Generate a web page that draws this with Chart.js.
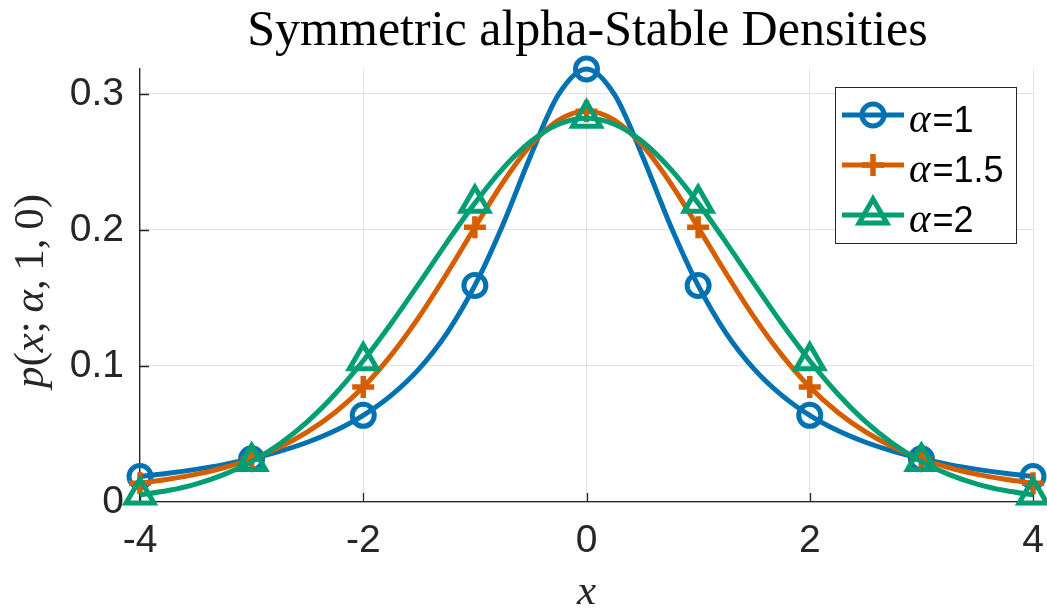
<!DOCTYPE html>
<html>
<head>
<meta charset="utf-8">
<title>Symmetric alpha-Stable Densities</title>
<script src="https://cdn.jsdelivr.net/npm/chart.js@4.4.1/dist/chart.umd.min.js"></script>
<style>
  html, body { margin: 0; padding: 0; background: #ffffff; overflow: hidden; }
  #wrap { width: 1047px; height: 612px; position: relative; }
</style>
</head>
<body>
<div id="wrap"><canvas id="chart" width="1047" height="612"></canvas></div>
<script>
// Sample grid along x
const xValues = [-4, -3.75, -3.5, -3.25, -3, -2.75, -2.5, -2.25, -2, -1.75, -1.5, -1.25, -1, -0.75, -0.5, -0.25,
                 0, 0.25, 0.5, 0.75, 1, 1.25, 1.5, 1.75, 2, 2.25, 2.5, 2.75, 3, 3.25, 3.5, 3.75, 4];

// Density values p(x; alpha, 1, 0) for each alpha
const densityAlpha1 = [0.0187, 0.0211, 0.0240, 0.0275, 0.0318, 0.0372, 0.0439, 0.0525, 0.0637, 0.0784, 0.0979, 0.1242, 0.1592, 0.2037, 0.2546, 0.2996,
                       0.3183, 0.2996, 0.2546, 0.2037, 0.1592, 0.1242, 0.0979, 0.0784, 0.0637, 0.0525, 0.0439, 0.0372, 0.0318, 0.0275, 0.0240, 0.0211, 0.0187];
const densityAlpha15 = [0.0138, 0.0167, 0.0203, 0.0252, 0.0316, 0.0402, 0.0515, 0.0660, 0.0845, 0.1080, 0.1361, 0.1681, 0.2019, 0.2347, 0.2623, 0.2808,
                        0.2873, 0.2808, 0.2623, 0.2347, 0.2019, 0.1681, 0.1361, 0.1080, 0.0845, 0.0660, 0.0515, 0.0402, 0.0316, 0.0252, 0.0203, 0.0167, 0.0138];
const densityAlpha2 = [0.0052, 0.0084, 0.0132, 0.0201, 0.0297, 0.0426, 0.0591, 0.0796, 0.1038, 0.1312, 0.1607, 0.1909, 0.2197, 0.2451, 0.2650, 0.2777,
                       0.2821, 0.2777, 0.2650, 0.2451, 0.2197, 0.1909, 0.1607, 0.1312, 0.1038, 0.0796, 0.0591, 0.0426, 0.0297, 0.0201, 0.0132, 0.0084, 0.0052];

const alphaLabels = ['1', '1.5', '2'];
const xTickValues = [-4, -2, 0, 2, 4];
const yTickValues = [0, 0.1, 0.2, 0.3];

const AXIS_COLOR = '#262626';
const GRID_COLOR = '#e2e2e2';
const SANS = '"Liberation Sans", Arial, sans-serif';
const SERIF = '"Liberation Serif", "Times New Roman", serif';
const LINE_WIDTH = 5;

const seriesStyles = [
  { color: '#0072B2', pointStyle: 'circle',   radius: 11, width: 5 },
  { color: '#D55E00', pointStyle: 'cross',    radius: 11, width: 5.5 },
  { color: '#009E73', pointStyle: 'triangle', radius: 16, width: 5 }
];

const seriesValues = [densityAlpha1, densityAlpha15, densityAlpha2];

function makeDataset(i) {
  const st = seriesStyles[i];
  return {
    label: 'alpha=' + alphaLabels[i],
    data: xValues.map((x, k) => ({ x: x, y: seriesValues[i][k] })),
    borderColor: st.color,
    borderWidth: LINE_WIDTH,
    cubicInterpolationMode: 'monotone',
    pointStyle: st.pointStyle,
    pointRadius: ctx => Number.isInteger(xValues[ctx.dataIndex]) ? st.radius : 0,
    pointHoverRadius: ctx => Number.isInteger(xValues[ctx.dataIndex]) ? st.radius : 0,
    pointBorderColor: st.color,
    pointBackgroundColor: 'rgba(0,0,0,0)',
    pointBorderWidth: st.width,
    clip: false,
    order: 2 - i,
    fill: false
  };
}

function drawMarker(ctx, st, x, y) {
  ctx.save();
  ctx.strokeStyle = st.color;
  ctx.fillStyle = 'rgba(0,0,0,0)';
  ctx.lineWidth = st.width;
  if (Chart.helpers && Chart.helpers.drawPoint) {
    Chart.helpers.drawPoint(ctx, { pointStyle: st.pointStyle, radius: st.radius, borderWidth: st.width, rotation: 0 }, x, y);
  }
  ctx.restore();
}

// Title, axis labels, inward tick marks and the legend box
const decorations = {
  id: 'decorations',
  beforeDatasetsDraw(chart) {
    const ctx = chart.ctx;
    const xs = chart.scales.x, ys = chart.scales.y;
    const area = chart.chartArea;
    ctx.save();
    ctx.strokeStyle = AXIS_COLOR;
    ctx.lineWidth = 1.3;
    ctx.beginPath();
    xTickValues.forEach(v => {
      const px = Math.round(xs.getPixelForValue(v)) + 0.5;
      ctx.moveTo(px, area.bottom);
      ctx.lineTo(px, area.bottom - 9);
    });
    yTickValues.forEach(v => {
      const py = Math.round(ys.getPixelForValue(v)) + 0.5;
      ctx.moveTo(area.left, py);
      ctx.lineTo(area.left + 9, py);
    });
    ctx.stroke();
    ctx.restore();
  },
  afterDraw(chart) {
    const ctx = chart.ctx;
    const area = chart.chartArea;
    const cx = (area.left + area.right) / 2;
    ctx.save();

    // Title
    ctx.fillStyle = '#000000';
    ctx.font = '50px ' + SERIF;
    ctx.textAlign = 'center';
    ctx.textBaseline = 'alphabetic';
    ctx.fillText('Symmetric alpha-Stable Densities', cx + 1, 45);

    // x-axis label
    ctx.font = 'italic 43px ' + SERIF;
    ctx.fillStyle = AXIS_COLOR;
    ctx.fillText('x', cx, 604);

    // y-axis label: p(x; α, 1, 0), rotated
    const parts = [
      ['p', true], ['(', false], ['x', true], [';', false], ['\u2009', false], ['\u03B1', true], [',', false], ['\u2009', false],
      ['1', false], [',', false], ['\u2009', false], ['0', false], [')', false]
    ];
    const ySize = 43;
    const fontFor = it => (it ? 'italic ' : '') + ySize + 'px ' + SERIF;
    let total = 0;
    parts.forEach(p => { ctx.font = fontFor(p[1]); total += ctx.measureText(p[0]).width; });
    ctx.translate(43, 291);
    ctx.rotate(-Math.PI / 2);
    ctx.textAlign = 'left';
    let pos = -total / 2;
    parts.forEach(p => {
      ctx.font = fontFor(p[1]);
      ctx.fillText(p[0], pos, 0);
      pos += ctx.measureText(p[0]).width;
    });
    ctx.setTransform(1, 0, 0, 1, 0, 0);

    // Legend
    const box = { x: 835.5, y: 87.5, w: 181, h: 156 };
    ctx.fillStyle = '#ffffff';
    ctx.fillRect(box.x, box.y, box.w, box.h);
    ctx.strokeStyle = AXIS_COLOR;
    ctx.lineWidth = 1;
    ctx.strokeRect(box.x, box.y, box.w, box.h);
    const rowY = [115, 165, 215];
    seriesStyles.forEach((st, i) => {
      const y = rowY[i];
      ctx.strokeStyle = st.color;
      ctx.lineWidth = LINE_WIDTH;
      ctx.beginPath();
      ctx.moveTo(842, y);
      ctx.lineTo(904, y);
      ctx.stroke();
      drawMarker(ctx, st, 873, y);
      ctx.fillStyle = '#000000';
      ctx.textAlign = 'left';
      ctx.font = 'italic 41px ' + SERIF;
      ctx.fillText('\u03B1', 909, y + 17);
      const aw = ctx.measureText('\u03B1').width;
      ctx.font = '36px ' + SANS;
      ctx.fillText('=' + alphaLabels[i], 909 + aw + 2, y + 17);
    });
    ctx.restore();
  }
};

new Chart(document.getElementById('chart'), {
  type: 'line',
  data: { datasets: [0, 1, 2].map(makeDataset) },
  options: {
    responsive: false,
    animation: false,
    devicePixelRatio: 1,
    events: [],
    layout: { autoPadding: false, padding: { top: 69, right: 14, left: 0, bottom: 0 } },
    plugins: { legend: { display: false }, tooltip: { enabled: false }, title: { display: false } },
    scales: {
      x: {
        type: 'linear',
        min: -4,
        max: 4,
        afterBuildTicks: s => { s.ticks = xTickValues.map(v => ({ value: v })); },
        afterFit: s => { s.height = 110; },
        ticks: {
          font: { family: SANS, size: 39 },
          color: AXIS_COLOR,
          padding: 0,
          maxRotation: 0,
          autoSkip: false,
          callback: v => String(v)
        },
        grid: { color: GRID_COLOR, lineWidth: 1, drawTicks: true, tickLength: 16, tickColor: 'rgba(0,0,0,0)' },
        border: { color: AXIS_COLOR, width: 1.3 }
      },
      y: {
        type: 'linear',
        min: 0,
        max: 0.3183,
        afterBuildTicks: s => { s.ticks = yTickValues.map(v => ({ value: v })); },
        afterFit: s => { s.width = 140; s.paddingTop = 0; s.paddingBottom = 0; },
        ticks: {
          font: { family: SANS, size: 39 },
          color: AXIS_COLOR,
          padding: 16,
          autoSkip: false,
          callback: v => (v === 0 ? '0' : v.toFixed(1))
        },
        grid: { color: GRID_COLOR, lineWidth: 1, drawTicks: false },
        border: { color: AXIS_COLOR, width: 1.3 }
      }
    }
  },
  plugins: [decorations]
});
</script>
</body>
</html>
